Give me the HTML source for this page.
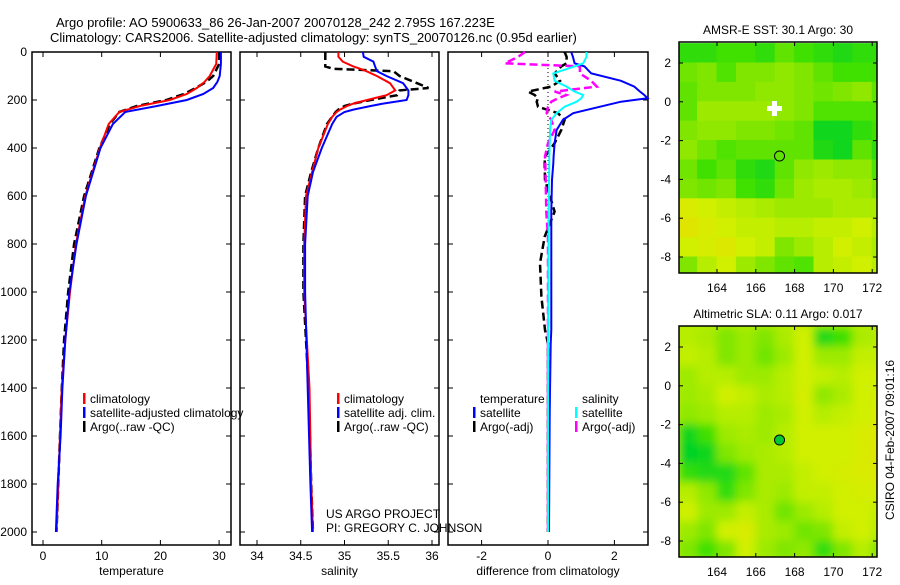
<!DOCTYPE html>
<html><head><meta charset="utf-8"><style>
body{margin:0;background:#fff}
svg text{font-family:"Liberation Sans",sans-serif;fill:#000}
</style></head><body>
<svg id="c" width="900" height="580" xmlns="http://www.w3.org/2000/svg">
<defs><filter id="bl" x="0" y="0" width="1" height="1"><feGaussianBlur stdDeviation="4.5"/></filter>
<clipPath id="cp1"><rect x="679" y="42" width="198" height="231"/></clipPath>
<clipPath id="cp2"><rect x="679" y="326" width="198" height="231"/></clipPath></defs>
<text x="56" y="27" font-size="13">Argo profile: AO 5900633_86 26-Jan-2007 20070128_242 2.795S 167.223E</text>
<text x="50" y="42" font-size="13">Climatology: CARS2006. Satellite-adjusted climatology: synTS_20070126.nc (0.95d earlier)</text>
<g id="g"></g>
</svg>
<script>
const tempDepth=[0,50,100,125,150,175,200,225,250,300,400,600,800,1000,1200,1400,1600,1800,2000];
const tempClim=[29.6,29.5,28.4,27.5,26.2,24.5,21.6,16.5,13,11.2,9.7,7.2,5.6,4.6,3.8,3.2,2.9,2.6,2.3];
const tempSat=[30.3,30.3,30.1,29.7,29,27.3,24.5,19.4,14,11.9,9.8,7.3,5.7,4.5,3.8,3.3,3.0,2.5,2.2];
const tempArgo=[30.0,30.0,29.0,27.8,26.0,24.0,21.0,16.0,13,11.4,9.6,7.0,5.3,4.3,3.6,3.2,2.9,2.6,2.3];
const salDepth=[0,20,40,60,70,80,100,130,150,160,180,200,215,225,240,250,270,300,400,500,600,800,1000,1400,1800,2000];
const salClim=[34.93,34.93,34.98,35.1,35.18,35.25,35.37,35.52,35.56,35.58,35.48,35.26,35.1,35.03,34.95,34.91,34.86,34.81,34.70,34.63,34.56,34.54,34.54,34.6,34.62,34.64];
const salSat=[35.21,35.22,35.33,35.35,35.36,35.37,35.48,35.67,35.71,35.73,35.73,35.71,35.44,35.3,35.1,35.0,34.91,34.86,34.74,34.64,34.58,34.55,34.55,34.58,34.61,34.63];
const salArgo=[34.78,34.78,34.78,34.78,34.87,35.56,35.63,35.83,35.96,35.63,35.6,35.3,35.1,35.0,34.93,34.9,34.86,34.8,34.70,34.62,34.55,34.53,34.53,34.59,34.62,34.64];
const dDepth=[0,20,47,60,89,120,144,165,179,193,207,228,255,283,325,380,436,464,533,665,769,880,1019,1158,1214,1500,2000];
const dTempSat=[0.7,0.75,0.8,1.1,1.3,2.2,2.6,2.77,2.9,3.0,2.2,1.57,0.76,0.45,0.26,0.2,0.17,0.16,0.12,0.1,0.1,0.1,0.1,0.1,0.08,0.05,0.03];
const dSalSat=[1.16,1.16,1.06,0.8,0.16,0.2,0.56,0.8,1.06,1.0,0.86,0.5,0.26,0.1,0.06,0.05,0.04,0.04,0.03,0.02,0.02,0.01,0.01,0,0,0,0];
const dTempArgo=[0.5,0.56,0.56,0.4,0.2,0.36,0.1,-0.6,-0.4,-0.3,-0.34,-0.3,0.3,0.5,0.4,0.2,-0.09,-0.1,-0.09,0.2,-0.1,-0.24,-0.2,-0.09,0,0,0];
const dSalArgo=[-0.69,-0.9,-1.3,0.96,0.96,1.3,1.47,0.2,0.55,0.3,0.1,0.0,-0.04,0.1,0.2,0.0,-0.09,-0.08,-0.07,-0.05,0,0,0,0,0,0,0];
const depthTicks=[0,200,400,600,800,1000,1200,1400,1600,1800,2000];
const tempTicks=[0,10,20,30];
const salTicks=[34,34.5,35,35.5,36];
const diffTicks=[-2,0,2];
const latTicks=[2,0,-2,-4,-6,-8];
const lonTicks=[164,166,168,170,172];
const sstGrid=[
[0.85,0.85,0.8,0.8,0.85,0.7,0.8,0.85,0.9,0.85,0.85],
[0.65,0.6,0.75,0.6,0.6,0.55,0.6,0.7,0.8,0.8,0.8],
[0.7,0.6,0.6,0.6,0.55,0.55,0.6,0.65,0.6,0.55,0.7],
[0.7,0.5,0.5,0.5,0.5,0.55,0.6,0.75,0.75,0.75,0.75],
[0.6,0.55,0.55,0.6,0.6,0.65,0.7,0.95,0.95,0.85,0.8],
[0.55,0.65,0.75,0.7,0.7,0.7,0.7,0.9,0.95,0.7,0.85],
[0.65,0.8,0.7,0.85,0.9,0.7,0.55,0.5,0.55,0.55,0.75],
[0.6,0.65,0.6,0.8,0.85,0.65,0.5,0.45,0.45,0.5,0.6],
[0.2,0.3,0.35,0.4,0.45,0.5,0.5,0.5,0.45,0.45,0.45],
[0.1,0.2,0.3,0.35,0.35,0.4,0.4,0.35,0.35,0.3,0.4],
[0.3,0.25,0.15,0.3,0.35,0.6,0.5,0.4,0.3,0.35,0.45],
[0.6,0.4,0.3,0.5,0.6,0.7,0.75,0.4,0.35,0.3,0.4]];
const slaGrid=[
[0.4,0.45,0.6,0.5,0.6,0.45,0.3,0.9,0.8,0.45,0.4],
[0.35,0.4,0.6,0.5,0.65,0.5,0.3,0.5,0.5,0.35,0.35],
[0.5,0.4,0.4,0.5,0.5,0.4,0.3,0.35,0.4,0.3,0.3],
[0.5,0.45,0.3,0.35,0.45,0.4,0.25,0.55,0.45,0.3,0.25],
[0.55,0.5,0.4,0.4,0.5,0.45,0.3,0.4,0.35,0.3,0.2],
[0.95,0.8,0.5,0.45,0.5,0.4,0.3,0.3,0.3,0.2,0.15],
[1.0,0.95,0.6,0.5,0.45,0.4,0.3,0.3,0.3,0.2,0.1],
[0.85,0.9,0.9,0.7,0.45,0.45,0.35,0.3,0.25,0.2,0.15],
[0.4,0.55,0.85,0.6,0.45,0.5,0.35,0.35,0.3,0.25,0.25],
[0.3,0.5,0.5,0.35,0.45,0.65,0.5,0.4,0.3,0.3,0.35],
[0.5,0.6,0.3,0.2,0.45,0.5,0.65,0.6,0.35,0.3,0.4],
[0.6,0.8,0.6,0.3,0.5,0.6,0.55,0.85,0.6,0.4,0.6]];
const argoLon=167.223, argoLat=-2.795;

const NS='http://www.w3.org/2000/svg';
const G=document.getElementById('g');
function mk(t,a,p){const e=document.createElementNS(NS,t);for(const k in a)e.setAttribute(k,a[k]);(p||G).appendChild(e);return e;}
const yD=d=>52+d*0.24;
const xT=v=>43+v*5.87, xS=v=>257+(v-34)*87.5, xDf=v=>548+v*33.2;

function panel(x0,x1,xf,ticks,label,name){
  const r=mk('rect',{x:x0,y:52,width:x1-x0,height:493,fill:'none',stroke:'#000','stroke-width':1.5});
  
  
  depthTicks.forEach(d=>{mk('line',{x1:x0,x2:x0+5,y1:yD(d),y2:yD(d),stroke:'#000'});mk('line',{x1:x1-5,x2:x1,y1:yD(d),y2:yD(d),stroke:'#000'});});
  ticks.forEach(v=>{const x=xf(v);mk('line',{x1:x,x2:x,y1:545,y2:540,stroke:'#000'});mk('line',{x1:x,x2:x,y1:52,y2:57,stroke:'#000'});
    const t=mk('text',{x:x,y:560,'font-size':12,'text-anchor':'middle'});t.textContent=v;
    
    });
  const l=mk('text',{x:(x0+x1)/2,y:575,'font-size':12,'text-anchor':'middle'});l.textContent=label;
  
  
}
function line(xf,ds,vs,color,dash,name,w){
  const pts=ds.map((d,i)=>xf(vs[i]).toFixed(1)+','+yD(d).toFixed(1)).join(' ');
  const a={points:pts,fill:'none',stroke:color,'stroke-width':w||2};if(dash)a['stroke-dasharray']=dash;
  const p=mk('polyline',a);
  
  
}
panel(32,231,xT,tempTicks,'temperature','temperature-panel');
panel(240,439,xS,salTicks,'salinity','salinity-panel');
panel(448,648,xDf,diffTicks,'difference from climatology','difference-panel');
depthTicks.forEach(d=>{const t=mk('text',{x:27,y:yD(d)+4,'font-size':12,'text-anchor':'end'});t.textContent=d;
  
  });
line(xT,tempDepth,tempArgo,'#000','8,4','temp-argo-line',2.5);
line(xT,tempDepth,tempClim,'#f00',null,'temp-climatology-line');
line(xT,tempDepth,tempSat,'#00f',null,'temp-satellite-line');
line(xS,salDepth,salArgo,'#000','8,4','sal-argo-line',2.5);
line(xS,salDepth,salClim,'#f00',null,'sal-climatology-line');
line(xS,salDepth,salSat,'#00f',null,'sal-satellite-line');
mk('line',{x1:548,x2:548,y1:52,y2:532,stroke:'#000','stroke-dasharray':'1,3'});
line(xDf,dDepth,dTempArgo,'#000','8,4','diff-temp-argo-line',2.5);
line(xDf,dDepth,dSalArgo,'#f0f','8,4','diff-sal-argo-line',2.5);
line(xDf,dDepth,dTempSat,'#00f',null,'diff-temp-satellite-line');
line(xDf,dDepth,dSalSat,'#0ff',null,'diff-sal-satellite-line');

function legend(x,y,items,name){
  items.forEach((it,i)=>{const yy=y+i*14;
    if(it[1])mk('rect',{x:x,y:yy-10,width:2.5,height:11,fill:it[1]});
    const t=mk('text',{x:x+7,y:yy,'font-size':12});t.textContent=it[0];
    
    });
}
legend(83,403,[['climatology','#f00'],['satellite-adjusted climatology','#00f'],['Argo(..raw -QC)','#000']],'temp-legend');
legend(337,403,[['climatology','#f00'],['satellite adj. clim.','#00f'],['Argo(..raw -QC)','#000']],'sal-legend');
legend(473,403,[['temperature',null],['satellite','#00f'],['Argo(-adj)','#000']],'diff-temp-legend');
legend(575,403,[['salinity',null],['satellite','#0ff'],['Argo(-adj)','#f0f']],'diff-sal-legend');
[['US ARGO PROJECT',518],['PI: GREGORY C. JOHNSON',532]].forEach(a=>{const t=mk('text',{x:326,y:a[1],'font-size':12});t.textContent=a[0];
  
  });

const stops=[[0,[232,224,0]],[0.3,[208,240,0]],[0.55,[144,232,0]],[0.8,[64,224,0]],[1,[0,210,40]]];
function col(v){for(let i=1;i<stops.length;i++){if(v<=stops[i][0]){const a=stops[i-1],b=stops[i],f=(v-a[0])/(b[0]-a[0]);
  return 'rgb('+a[1].map((c,k)=>Math.round(c+(b[1][k]-c)*f)).join(',')+')';}}return 'rgb(0,210,40)';}
function map(top,grid,title,name,blur){
  const xL=v=>717+(v-164)*19.4, yL=v=>top+21+(2-v)*19.4;
  const g=mk('g',{'clip-path':'url(#cp'+(top<100?1:2)+')'});
  const gi=blur?mk('g',{filter:'url(#bl)'},g):g;
  if(blur)mk('rect',{x:650,y:top-30,width:260,height:300,fill:col(0.4)},gi);
  grid.forEach((row,j)=>row.forEach((v,i)=>{const c=mk('rect',{x:xL(162+i)-0.5,y:yL(3-j)-0.5,width:20.4,height:20.4,fill:col(v)},gi);
    
    }));
  const r=mk('rect',{x:679,y:top,width:198,height:231,fill:'none',stroke:'#000','stroke-width':1.5});
  
  
  latTicks.forEach(v=>{const y=yL(v);mk('line',{x1:679,x2:683,y1:y,y2:y,stroke:'#000'});mk('line',{x1:873,x2:877,y1:y,y2:y,stroke:'#000'});
    const t=mk('text',{x:671,y:y+4,'font-size':12,'text-anchor':'end'});t.textContent=v;
    
    });
  lonTicks.forEach(v=>{const x=xL(v);mk('line',{x1:x,x2:x,y1:top,y2:top+4,stroke:'#000'});mk('line',{x1:x,x2:x,y1:top+231,y2:top+227,stroke:'#000'});
    const t=mk('text',{x:x,y:top+250,'font-size':12,'text-anchor':'middle'});t.textContent=v;
    
    });
  const t=mk('text',{x:778,y:top-8,'font-size':12,'text-anchor':'middle'});t.textContent=title;
  
  
  const m=mk('circle',{cx:xL(argoLon),cy:yL(argoLat),r:5,fill:blur?'#00c830':'none',stroke:'#000'});
  
  
  return xL;
}
map(42,sstGrid,'AMSR-E SST: 30.1 Argo: 30','sst-map',false);
mk('path',{d:'M767 106h5v-5h5v5h5v5h-5v5h-5v-5h-5z',fill:'#fff'});
map(326,slaGrid,'Altimetric SLA: 0.11 Argo: 0.017','sla-map',true);
const ct=mk('text',{x:0,y:0,'font-size':12,'text-anchor':'middle',transform:'translate(894,440) rotate(-90)'});
ct.textContent='CSIRO 04-Feb-2007 09:01:16';


</script>
</body></html>
